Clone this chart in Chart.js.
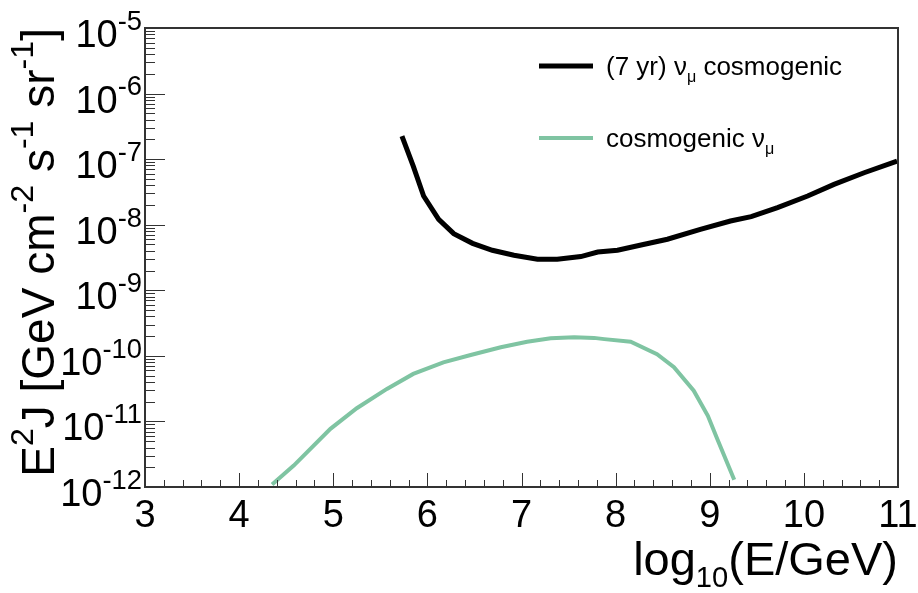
<!DOCTYPE html>
<html>
<head>
<meta charset="utf-8">
<script src="https://cdn.jsdelivr.net/npm/chart.js@4.4.1/dist/chart.umd.min.js"></script>
<style>
  html, body { margin: 0; padding: 0; background: #fff; }
  #wrap { width: 918px; height: 593px; }
</style>
</head>
<body>
<div id="wrap"><canvas id="grafico" width="918" height="593"></canvas></div>
<script>
// valores (log10(E/GeV) e E^2 J em GeV cm^-2 s^-1 sr^-1)
const limiteLogE = [5.73, 5.85, 5.96, 6.12, 6.28, 6.48, 6.69, 6.92, 7.17, 7.38, 7.63, 7.81, 8.02, 8.27, 8.55, 8.90, 9.22, 9.44, 9.72, 10.04, 10.32, 10.64, 10.99];
const limiteFluxo = [2.24e-7, 7.8e-8, 2.74e-8, 1.21e-8, 7.3e-9, 5.2e-9, 4.08e-9, 3.42e-9, 2.97e-9, 2.97e-9, 3.27e-9, 3.84e-9, 4.08e-9, 4.91e-9, 6.0e-9, 8.5e-9, 1.14e-8, 1.33e-8, 1.82e-8, 2.74e-8, 4.12e-8, 6.2e-8, 9.3e-8];

const cosmoLogE = [4.35, 4.58, 4.97, 5.25, 5.57, 5.85, 6.17, 6.46, 6.78, 7.06, 7.31, 7.56, 7.77, 7.88, 8.16, 8.44, 8.62, 8.83, 8.98, 9.08, 9.26];
const cosmoFluxo = [1.09e-12, 2.12e-12, 7.7e-12, 1.59e-11, 3.13e-11, 5.3e-11, 7.96e-11, 1.03e-10, 1.35e-10, 1.64e-10, 1.85e-10, 1.93e-10, 1.88e-10, 1.80e-10, 1.64e-10, 1.06e-10, 6.7e-11, 2.94e-11, 1.22e-11, 5.4e-12, 1.29e-12];

const ticksX = [3, 4, 5, 6, 7, 8, 9, 10, 11];
const decadasY = [-12, -11, -10, -9, -8, -7, -6, -5];

const rotulosLegenda = [
  [{ t: '(7 yr) ν' }, { t: 'μ', sub: true }, { t: ' cosmogenic' }],
  [{ t: 'cosmogenic ν' }, { t: 'μ', sub: true }]
];
const tituloY = [{ t: 'E' }, { t: '2', sup: true }, { t: 'J [GeV cm' }, { t: '-2', sup: true }, { t: ' s' }, { t: '-1', sup: true }, { t: ' sr' }, { t: '-1', sup: true }, { t: ']' }];
const tituloX = [{ t: 'log' }, { t: '10', sub: true }, { t: '(E/GeV)' }];

const corVerde = '#7fc4a2';
const FONTE = "'Liberation Sans', Arial, sans-serif";

function larguraRica(ctx, partes, tam, esc) {
  let w = 0;
  partes.forEach(p => {
    ctx.font = ((p.sup || p.sub) ? tam * esc : tam) + 'px ' + FONTE;
    w += ctx.measureText(p.t).width;
  });
  return w;
}

function textoRico(ctx, partes, x, y, tam, alinhamento, esc = 0.62) {
  const w = larguraRica(ctx, partes, tam, esc);
  let cx = alinhamento === 'right' ? x - w : alinhamento === 'center' ? x - w / 2 : x;
  ctx.textAlign = 'left';
  ctx.textBaseline = 'alphabetic';
  partes.forEach(p => {
    const pequeno = p.sup || p.sub;
    ctx.font = (pequeno ? tam * esc : tam) + 'px ' + FONTE;
    let dy = 0;
    if (p.sup) dy = -tam * 0.45;
    if (p.sub) dy = tam * 0.25;
    ctx.fillText(p.t, cx, y + dy);
    cx += ctx.measureText(p.t).width;
  });
}

const molduraRoot = {
  id: 'molduraRoot',
  afterDraw(chart) {
    const ctx = chart.ctx;
    const a = chart.chartArea;
    const sx = chart.scales.x;
    const sy = chart.scales.y;
    ctx.save();
    ctx.fillStyle = '#000';
    ctx.strokeStyle = '#333';
    ctx.lineWidth = 1;

    // ticks do eixo x (para dentro)
    ctx.beginPath();
    for (let v = 3; v <= 11.0001; v += 0.2) {
      const px = Math.round(sx.getPixelForValue(v)) + 0.5;
      const maior = Math.abs(v - Math.round(v)) < 1e-6;
      ctx.moveTo(px, a.bottom);
      ctx.lineTo(px, a.bottom - (maior ? 14 : 7));
    }
    // ticks do eixo y (log)
    decadasY.forEach(d => {
      for (let m = 1; m <= 9; m++) {
        const val = m * Math.pow(10, d);
        if (d === -5 && m > 1) continue;
        const py = Math.round(sy.getPixelForValue(val)) + 0.5;
        ctx.moveTo(a.left, py);
        ctx.lineTo(a.left + (m === 1 ? 20 : 10), py);
      }
    });
    ctx.stroke();

    // moldura
    ctx.lineWidth = 2;
    ctx.strokeRect(a.left, a.top, a.right - a.left, a.bottom - a.top);

    // rótulos
    ticksX.forEach(v => {
      ctx.font = '38px ' + FONTE;
      ctx.textAlign = 'center';
      ctx.textBaseline = 'alphabetic';
      ctx.fillText(String(v), sx.getPixelForValue(v), a.bottom + 40);
    });
    decadasY.forEach(d => {
      const py = sy.getPixelForValue(Math.pow(10, d));
      textoRico(ctx, [{ t: '10' }, { t: String(d), sup: true }], a.left - 3, py + 19, 38, 'right', 0.72);
    });

    // títulos
    textoRico(ctx, tituloX, a.right, a.bottom + 88, 47, 'right');
    ctx.save();
    ctx.translate(54, a.top);
    ctx.rotate(-Math.PI / 2);
    textoRico(ctx, tituloY, 0, 0, 46, 'right', 0.7);
    ctx.restore();

    // legenda
    const leg = [{ cor: '#000', lw: 5, y: 66 }, { cor: corVerde, lw: 4, y: 138 }];
    leg.forEach((l, i) => {
      ctx.strokeStyle = l.cor;
      ctx.lineWidth = l.lw;
      ctx.beginPath();
      ctx.moveTo(539, l.y);
      ctx.lineTo(593, l.y);
      ctx.stroke();
      ctx.fillStyle = '#000';
      textoRico(ctx, rotulosLegenda[i], 606, l.y + 9, 26, 'left');
    });
    ctx.restore();
  }
};

const paraPontos = (xs, ys) => xs.map((x, i) => ({ x, y: ys[i] }));

new Chart(document.getElementById('grafico'), {
  type: 'scatter',
  data: {
    datasets: [
      {
        label: '(7 yr) νμ cosmogenic',
        data: paraPontos(limiteLogE, limiteFluxo),
        showLine: true,
        borderColor: '#000',
        borderWidth: 5,
        pointRadius: 0,
        tension: 0
      },
      {
        label: 'cosmogenic νμ',
        data: paraPontos(cosmoLogE, cosmoFluxo),
        showLine: true,
        borderColor: corVerde,
        borderWidth: 4,
        pointRadius: 0,
        tension: 0
      }
    ]
  },
  options: {
    responsive: false,
    animation: false,
    layout: { padding: { top: 28, right: 20, left: 0, bottom: 0 } },
    plugins: { legend: { display: false }, tooltip: { enabled: false } },
    scales: {
      x: {
        type: 'linear', min: 3, max: 11,
        grid: { display: false }, border: { display: false },
        ticks: { display: false },
        afterFit: s => { s.height = 593 - 487; }
      },
      y: {
        type: 'logarithmic', min: 1e-12, max: 1e-5,
        grid: { display: false }, border: { display: false },
        ticks: { display: false },
        afterFit: s => { s.width = 145; }
      }
    }
  },
  plugins: [molduraRoot]
});
</script>
</body>
</html>
